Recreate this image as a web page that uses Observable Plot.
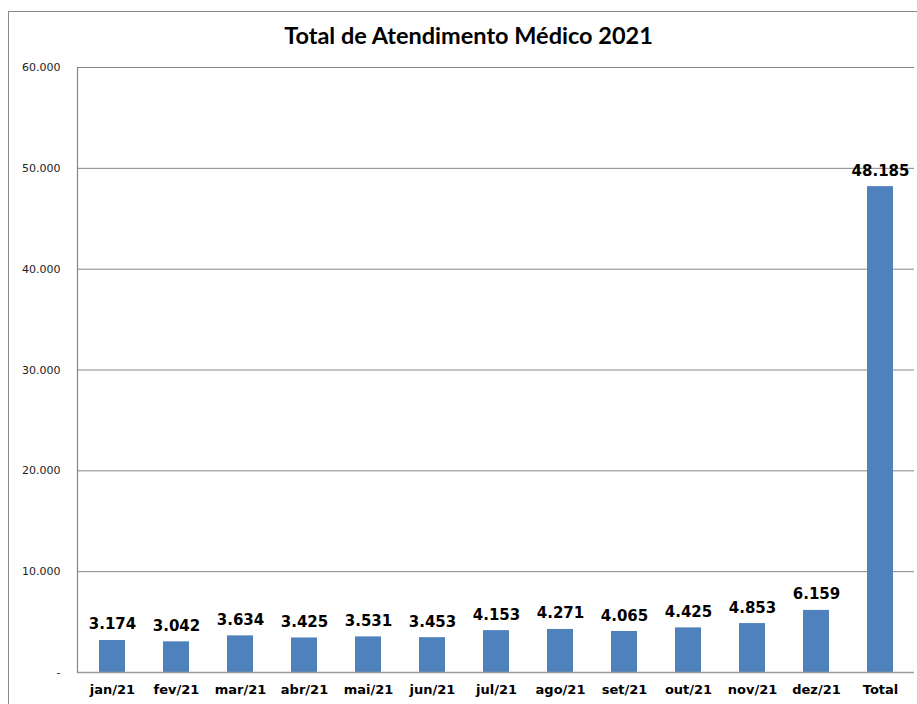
<!DOCTYPE html>
<html>
<head>
<meta charset="utf-8">
<script src="https://cdn.jsdelivr.net/npm/d3@7"></script>
<script src="https://cdn.jsdelivr.net/npm/@observablehq/plot@0.6"></script>
<style>
  html, body { margin: 0; padding: 0; background: #fff; overflow: hidden; width: 917px; height: 704px; }
  #wrap { position: relative; width: 917px; height: 704px; }
  #frame { position: absolute; left: 8px; top: 11px; width: 1200px; height: 1200px;
           border-left: 1.5px solid #8a8a8a; border-top: 1.5px solid #8a8a8a; box-sizing: border-box; }
  #title { position: absolute; left: 0; top: 21px; width: 937px; text-align: center;
           font-family: Lato, "Open Sans", sans-serif; font-weight: bold; font-size: 23.5px; color: #000; }
  #chart { position: absolute; left: 0; top: 0; }
</style>
</head>
<body>
<div id="wrap">
  <div id="frame"></div>
  <div id="chart"></div>
  <div id="title">Total de Atendimento Médico 2021</div>
</div>
<script>
const categories = ["jan/21","fev/21","mar/21","abr/21","mai/21","jun/21","jul/21","ago/21","set/21","out/21","nov/21","dez/21","Total"];
const values = [3174, 3042, 3634, 3425, 3531, 3453, 4153, 4271, 4065, 4425, 4853, 6159, 48185];
const yTicks = [0, 10000, 20000, 30000, 40000, 50000, 60000];

const data = categories.map((c, i) => ({category: c, value: values[i]}));
const fmt = d3.formatLocale({decimal: ",", thousands: ".", grouping: [3]}).format(",d");
const yFmt = d => d === 0 ? "-" : fmt(d);

const chart = Plot.plot({
  width: 917,
  height: 704,
  marginLeft: 77,
  marginRight: 3,
  marginTop: 67,
  marginBottom: 32,
  style: {background: "transparent", fontFamily: "DejaVu Sans, Verdana, sans-serif", color: "#000"},
  x: {domain: categories, paddingInner: 0.6, paddingOuter: 0.3, label: null},
  y: {domain: [0, 60000], label: null},
  marks: [
    Plot.gridY(yTicks, {stroke: "#878787", strokeOpacity: 1, strokeWidth: 1}),
    Plot.frame({anchor: "left", stroke: "#878787", strokeWidth: 1.2}),
    Plot.barY(data, {x: "category", y: "value", fill: "#4F81BD"}),
    Plot.ruleY([0], {stroke: "#9a9a9a", strokeWidth: 1.5}),
    Plot.text(data, {x: "category", y: "value", text: d => fmt(d.value), lineAnchor: "bottom", dy: -11,
      fontSize: 15, fontWeight: "bold", fill: "#000"}),
    Plot.axisY(yTicks, {tickSize: 0, tickPadding: 17, tickFormat: yFmt, fontSize: 11, fill: "#222", label: null}),
    Plot.axisX({tickSize: 0, tickPadding: 12, fontSize: 13, fontWeight: "bold", fill: "#000", label: null})
  ]
});
document.getElementById("chart").appendChild(chart);
</script>
</body>
</html>
